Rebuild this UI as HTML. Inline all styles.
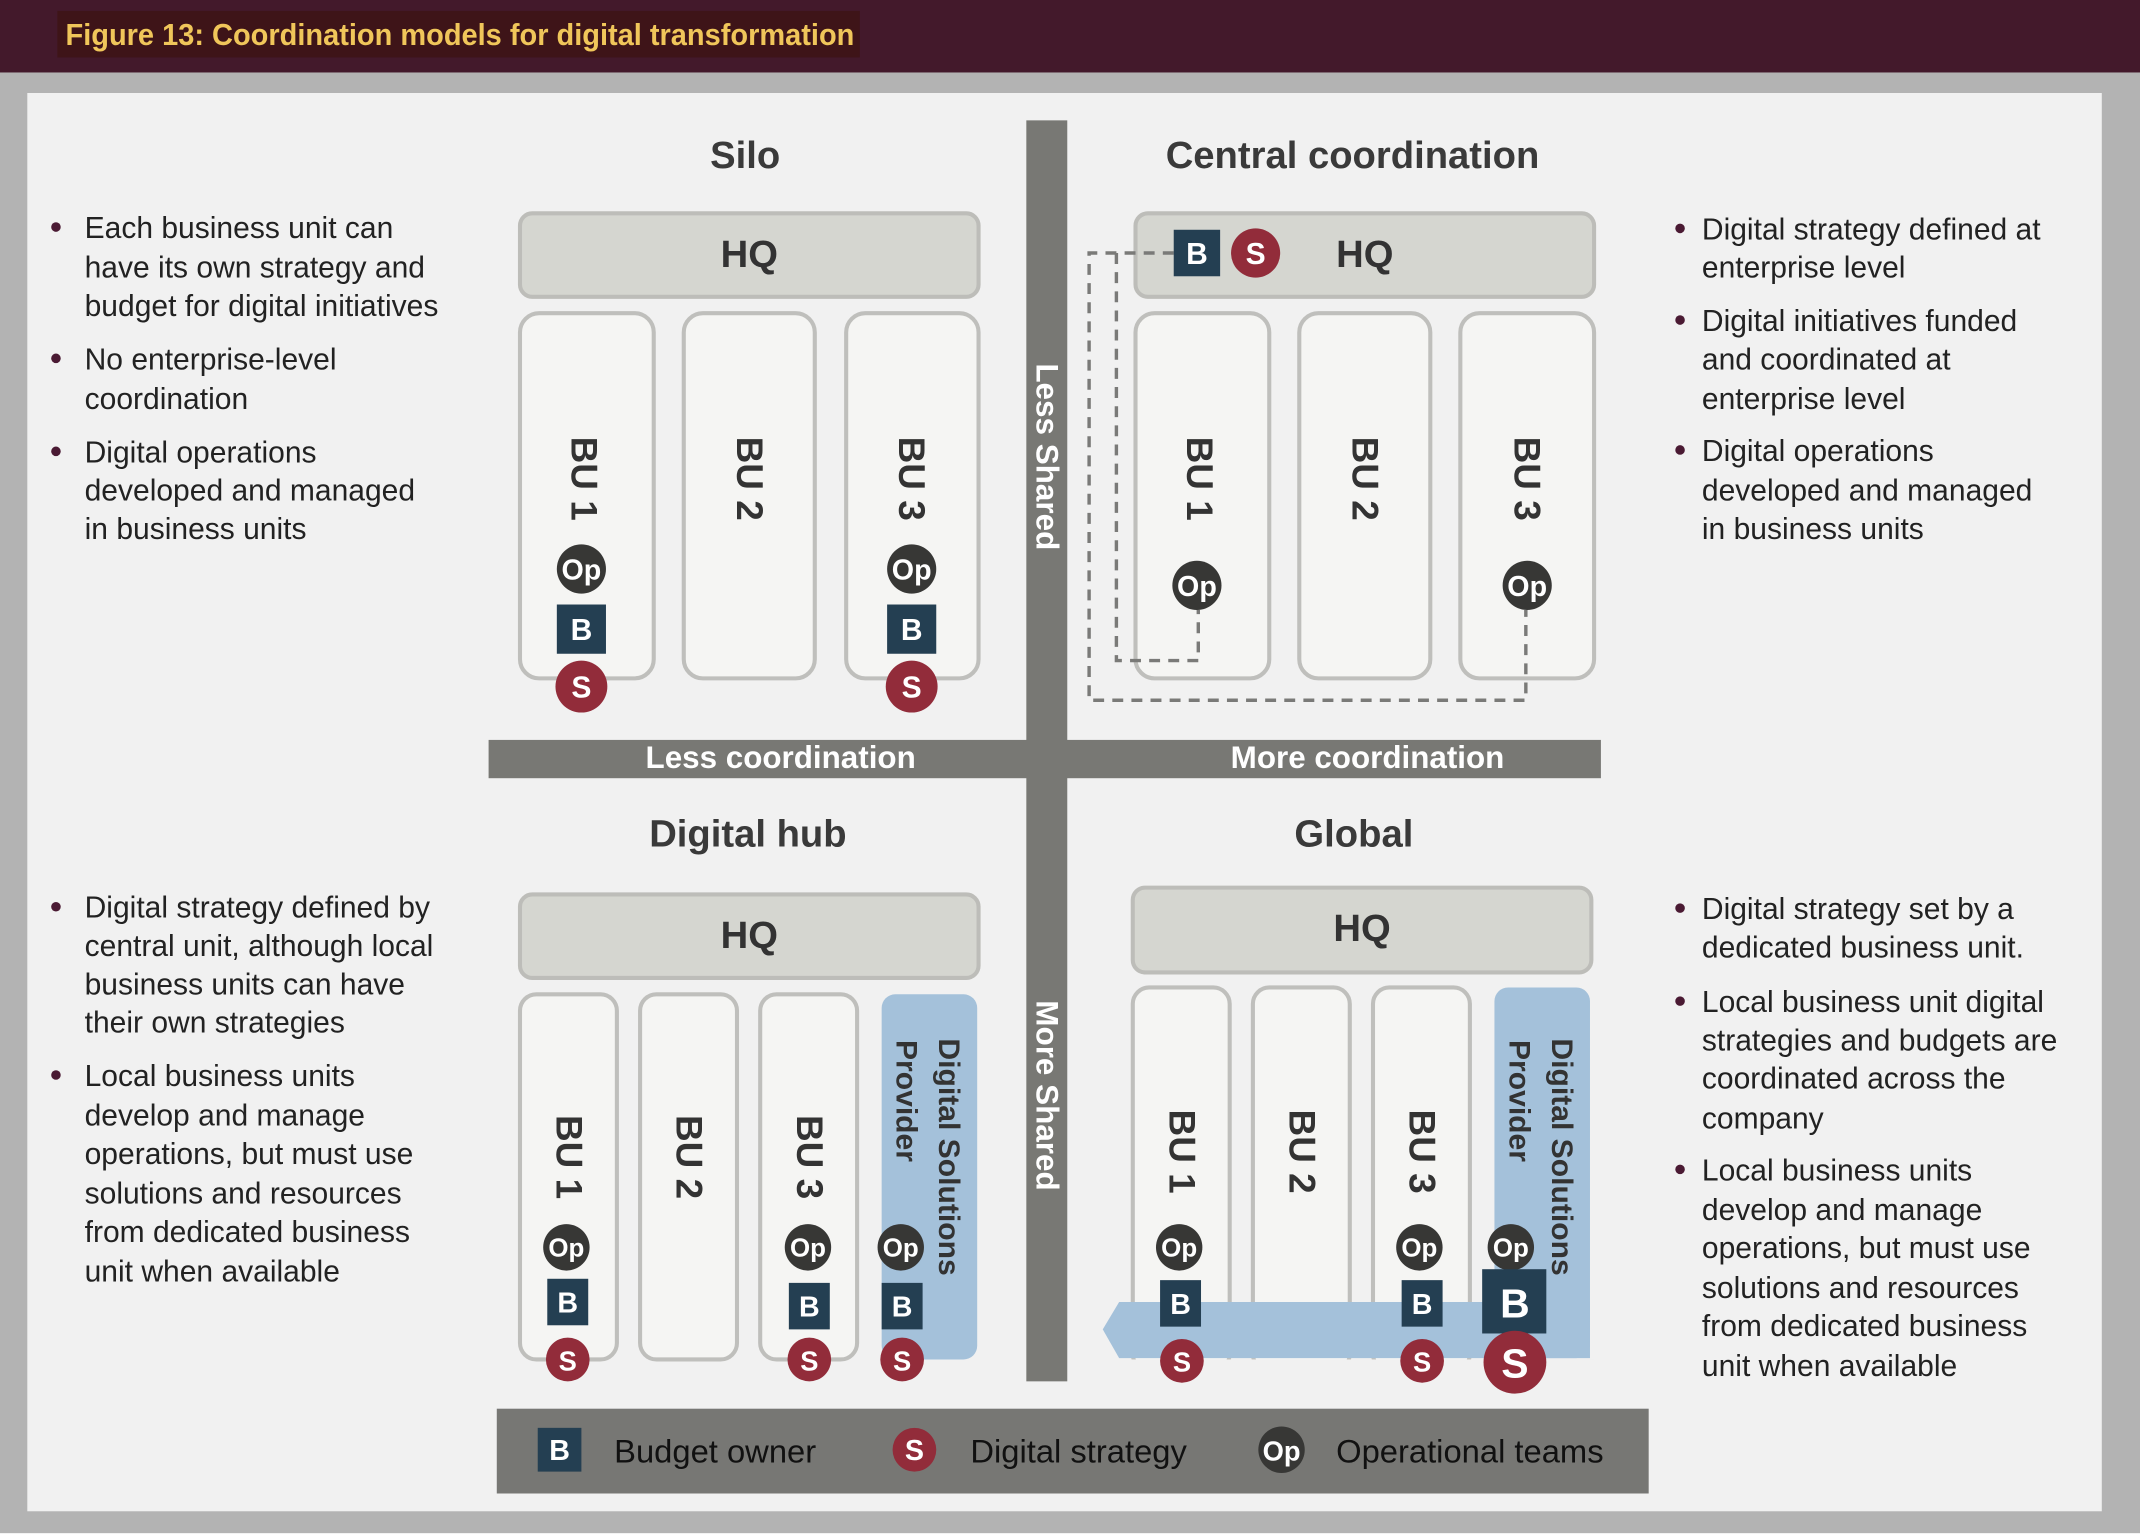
<!DOCTYPE html>
<html><head><meta charset="utf-8"><style>
html,body{margin:0;padding:0;background:#fff;}
svg{display:block;}
text{font-family:"Liberation Sans",sans-serif;}
.bul{font-size:22px;fill:#222;}
.dot{fill:#4a1a33;}
.ttl{font-size:28px;font-weight:bold;fill:#3a3a3a;text-anchor:middle;}
.hq{font-size:28px;font-weight:bold;fill:#333;text-anchor:middle;dominant-baseline:central;}
.bu{font-size:27px;font-weight:bold;fill:#333;text-anchor:middle;dominant-baseline:central;}
.hqb{fill:#d5d6d0;stroke:#bdbdb9;stroke-width:3;}
.bub{fill:#f5f5f3;stroke:#bfbfbc;stroke-width:3;}
.w{fill:#fff;font-weight:bold;text-anchor:middle;dominant-baseline:central;}
.bar{font-size:23px;font-weight:bold;fill:#fff;text-anchor:middle;dominant-baseline:central;}
.leg{font-size:24px;fill:#111;dominant-baseline:central;}
</style></head><body>
<svg width="2140" height="1540" viewBox="0 0 1568 1126" preserveAspectRatio="none" xmlns="http://www.w3.org/2000/svg">
<defs>
<g id="op"><circle r="18" fill="#373735"/><text class="w" font-size="21" y="1">Op</text></g>
<g id="b"><rect x="-18" y="-18" width="36" height="36" fill="#243f52"/><text class="w" font-size="22" y="1">B</text></g>
<g id="s"><circle r="19" fill="#922c3a"/><text class="w" font-size="22" y="1">S</text></g>
<g id="opS"><circle r="17" fill="#373735"/><text class="w" font-size="19" y="1">Op</text></g>
<g id="bS"><rect x="-15" y="-17" width="30" height="34" fill="#243f52"/><text class="w" font-size="21" y="1">B</text></g>
<g id="sS"><circle r="16" fill="#922c3a"/><text class="w" font-size="20" y="1">S</text></g>
</defs>
<rect width="1568" height="1126" fill="#fff"/>
<rect x="0" y="0" width="1568" height="53" fill="#43192b"/>
<rect x="42" y="8" width="588" height="34" fill="#3e1418"/>
<text x="48" y="33" font-size="22" font-weight="bold" fill="#f0c65a" textLength="578" lengthAdjust="spacingAndGlyphs">Figure 13: Coordination models for digital transformation</text>
<rect x="0" y="53" width="1568" height="1068" fill="#b3b3b3"/>
<rect x="20" y="68" width="1520" height="1037" fill="#f1f1f1"/>

<rect x="752" y="88" width="30" height="922" fill="#787874"/>
<rect x="358" y="541" width="815" height="28" fill="#787874"/>
<text class="bar" x="572" y="554">Less coordination</text>
<text class="bar" x="1002" y="554">More coordination</text>
<text class="bar" transform="translate(767,334) rotate(90)">Less Shared</text>
<text class="bar" transform="translate(767,801) rotate(90)">More Shared</text>

<text class="ttl" x="546" y="123">Silo</text>
<text class="ttl" x="991" y="123">Central coordination</text>
<text class="ttl" x="548" y="619">Digital hub</text>
<text class="ttl" x="992" y="619">Global</text>

<rect class="hqb" x="381" y="156" width="336" height="61" rx="9"/>
<text class="hq" x="549" y="186">HQ</text>
<rect class="bub" x="381" y="229" width="98" height="267" rx="14"/>
<rect class="bub" x="501" y="229" width="96" height="267" rx="14"/>
<rect class="bub" x="620" y="229" width="97" height="267" rx="14"/>
<text class="bu" transform="translate(428,350) rotate(90)">BU 1</text>
<text class="bu" transform="translate(549,350) rotate(90)">BU 2</text>
<text class="bu" transform="translate(668,350) rotate(90)">BU 3</text>
<use href="#op" x="426" y="416"/><use href="#b" x="426" y="460"/><use href="#s" x="426" y="502"/>
<use href="#op" x="668" y="416"/><use href="#b" x="668" y="460"/><use href="#s" x="668" y="502"/>

<rect class="hqb" x="832" y="156" width="336" height="61" rx="9"/>
<text class="hq" x="1000" y="186">HQ</text>
<rect class="bub" x="832" y="229" width="98" height="267" rx="14"/>
<rect class="bub" x="952" y="229" width="96" height="267" rx="14"/>
<rect class="bub" x="1070" y="229" width="98" height="267" rx="14"/>
<text class="bu" transform="translate(879,350) rotate(90)">BU 1</text>
<text class="bu" transform="translate(1000,350) rotate(90)">BU 2</text>
<text class="bu" transform="translate(1119,350) rotate(90)">BU 3</text>
<g fill="none" stroke="#7a7a78" stroke-width="2.5" stroke-dasharray="8,6">
<path d="M860,185 H798 V512 H1118 V446"/>
<path d="M818,185 V483 H878 V446"/>
</g>
<use href="#op" x="877" y="428"/><use href="#op" x="1119" y="428"/>
<g transform="translate(877,185)"><rect x="-17" y="-17" width="34" height="34" fill="#243f52"/><text class="w" font-size="22" y="1">B</text></g>
<g transform="translate(920,185)"><circle r="18" fill="#922c3a"/><text class="w" font-size="22" y="1">S</text></g>

<rect class="hqb" x="381" y="654" width="336" height="61" rx="9"/>
<text class="hq" x="549" y="684">HQ</text>
<rect class="bub" x="381" y="727" width="71" height="267" rx="12"/>
<rect class="bub" x="469" y="727" width="71" height="267" rx="12"/>
<rect class="bub" x="557" y="727" width="71" height="267" rx="12"/>
<rect x="646" y="727" width="70" height="267" rx="10" fill="#a4c1da"/>
<text class="bu" transform="translate(417,846) rotate(90)">BU 1</text>
<text class="bu" transform="translate(505,846) rotate(90)">BU 2</text>
<text class="bu" transform="translate(593,846) rotate(90)">BU 3</text>
<text transform="translate(695,846) rotate(90)" font-size="22" font-weight="bold" fill="#333" text-anchor="middle" dominant-baseline="central">Digital Solutions</text>
<text transform="translate(664,805) rotate(90)" font-size="22" font-weight="bold" fill="#333" text-anchor="middle" dominant-baseline="central">Provider</text>
<use href="#opS" x="415" y="912"/><use href="#bS" x="416" y="952"/><use href="#sS" x="416" y="994"/>
<use href="#opS" x="592" y="912"/><use href="#bS" x="593" y="955"/><use href="#sS" x="593" y="994"/>
<use href="#opS" x="660" y="912"/><use href="#bS" x="661" y="955"/><use href="#sS" x="661" y="994"/>

<rect class="hqb" x="830" y="649" width="336" height="62" rx="9"/>
<text class="hq" x="998" y="679">HQ</text>
<rect class="bub" x="830" y="722" width="71" height="280" rx="12"/>
<rect class="bub" x="918" y="722" width="71" height="280" rx="12"/>
<rect class="bub" x="1006" y="722" width="71" height="280" rx="12"/>
<rect x="1095" y="722" width="70" height="271" rx="10" fill="#a4c1da"/>
<polygon points="820,952 1165,952 1165,993 820,993 808,972" fill="#a4c1da"/>
<rect x="828" y="994" width="340" height="12" fill="#f1f1f1"/>
<text class="bu" transform="translate(866,842) rotate(90)">BU 1</text>
<text class="bu" transform="translate(954,842) rotate(90)">BU 2</text>
<text class="bu" transform="translate(1042,842) rotate(90)">BU 3</text>
<text transform="translate(1144,846) rotate(90)" font-size="22" font-weight="bold" fill="#333" text-anchor="middle" dominant-baseline="central">Digital Solutions</text>
<text transform="translate(1113,805) rotate(90)" font-size="22" font-weight="bold" fill="#333" text-anchor="middle" dominant-baseline="central">Provider</text>
<use href="#opS" x="864" y="912"/><use href="#bS" x="865" y="953"/><use href="#sS" x="866" y="995"/>
<use href="#opS" x="1040" y="912"/><use href="#bS" x="1042" y="953"/><use href="#sS" x="1042" y="995"/>
<use href="#opS" x="1107" y="912"/>
<g transform="translate(1110,952)"><rect x="-24" y="-24" width="47" height="47" fill="#243f52"/><text class="w" font-size="30" y="1">B</text></g>
<g transform="translate(1110,996)"><circle r="23" fill="#922c3a"/><text class="w" font-size="30" y="1">S</text></g>

<rect x="364" y="1030" width="844" height="62" fill="#777774"/>
<g transform="translate(410,1060)"><rect x="-16" y="-16" width="32" height="32" fill="#243f52"/><text class="w" font-size="21" y="1">B</text></g>
<text class="leg" x="450" y="1061">Budget owner</text>
<g transform="translate(670,1060)"><circle r="16" fill="#922c3a"/><text class="w" font-size="21" y="1">S</text></g>
<text class="leg" x="711" y="1061">Digital strategy</text>
<g transform="translate(939,1060)"><circle r="17" fill="#373735"/><text class="w" font-size="20" y="1">Op</text></g>
<text class="leg" x="979" y="1061">Operational teams</text>

<g class="bul">
<circle class="dot" cx="41" cy="166" r="3.5"/><circle class="dot" cx="41" cy="262" r="3.5"/><circle class="dot" cx="41" cy="330" r="3.5"/>
<text x="62" y="174">Each business unit can</text>
<text x="62" y="203">have its own strategy and</text>
<text x="62" y="231">budget for digital initiatives</text>
<text x="62" y="270">No enterprise-level</text>
<text x="62" y="299">coordination</text>
<text x="62" y="338">Digital operations</text>
<text x="62" y="366">developed and managed</text>
<text x="62" y="394">in business units</text>

<circle class="dot" cx="41" cy="663" r="3.5"/><circle class="dot" cx="41" cy="786" r="3.5"/>
<text x="62" y="671">Digital strategy defined by</text>
<text x="62" y="699">central unit, although local</text>
<text x="62" y="727">business units can have</text>
<text x="62" y="755">their own strategies</text>
<text x="62" y="794">Local business units</text>
<text x="62" y="823">develop and manage</text>
<text x="62" y="851">operations, but must use</text>
<text x="62" y="880">solutions and resources</text>
<text x="62" y="908">from dedicated business</text>
<text x="62" y="937">unit when available</text>

<circle class="dot" cx="1231" cy="167" r="3.5"/><circle class="dot" cx="1231" cy="234" r="3.5"/><circle class="dot" cx="1231" cy="329" r="3.5"/>
<text x="1247" y="175">Digital strategy defined at</text>
<text x="1247" y="203">enterprise level</text>
<text x="1247" y="242">Digital initiatives funded</text>
<text x="1247" y="270">and coordinated at</text>
<text x="1247" y="299">enterprise level</text>
<text x="1247" y="337">Digital operations</text>
<text x="1247" y="366">developed and managed</text>
<text x="1247" y="394">in business units</text>

<circle class="dot" cx="1231" cy="664" r="3.5"/><circle class="dot" cx="1231" cy="732" r="3.5"/><circle class="dot" cx="1231" cy="855" r="3.5"/>
<text x="1247" y="672">Digital strategy set by a</text>
<text x="1247" y="700">dedicated business unit.</text>
<text x="1247" y="740">Local business unit digital</text>
<text x="1247" y="768">strategies and budgets are</text>
<text x="1247" y="796">coordinated across the</text>
<text x="1247" y="825">company</text>
<text x="1247" y="863">Local business units</text>
<text x="1247" y="892">develop and manage</text>
<text x="1247" y="920">operations, but must use</text>
<text x="1247" y="949">solutions and resources</text>
<text x="1247" y="977">from dedicated business</text>
<text x="1247" y="1006">unit when available</text>
</g>
</svg>
</body></html>
